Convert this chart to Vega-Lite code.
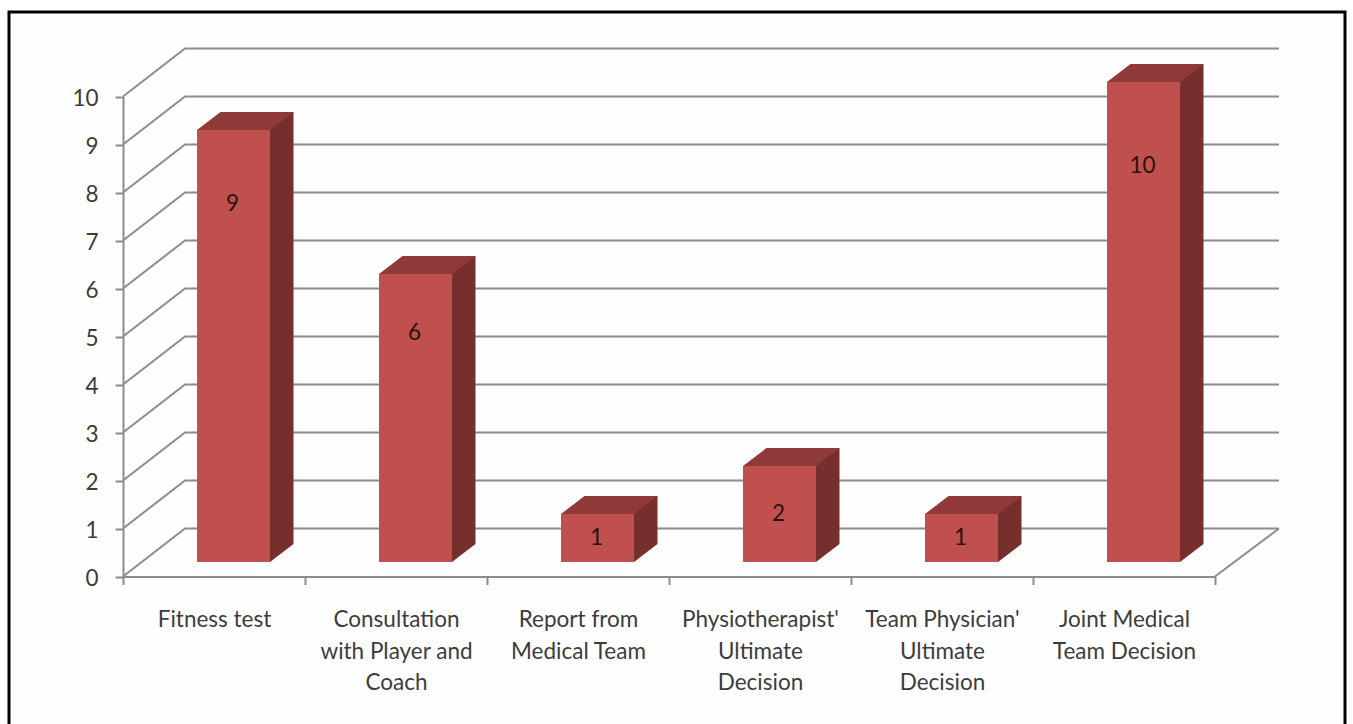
{
  "$schema": "https://vega.github.io/schema/vega-lite/v6.json",
  "width": 1336,
  "height": 714,
  "autosize": "none",
  "padding": {"left": 9, "top": 12, "right": 8, "bottom": 0},
  "background": "white",
  "view": {"stroke": "#000000", "strokeWidth": 3, "fill": "#fefefe"},
  "config": {"font": "Lato"},
  "data": {"values": [
    {"category": "Fitness test", "value": 9},
    {"category": "Consultation with Player and Coach", "value": 6},
    {"category": "Report from Medical Team", "value": 1},
    {"category": "Physiotherapist' Ultimate Decision", "value": 2},
    {"category": "Team Physician' Ultimate Decision", "value": 1},
    {"category": "Joint Medical Team Decision", "value": 10}
  ]},
  "encoding": {
    "x": {
      "field": "category",
      "type": "nominal",
      "sort": null,
      "title": null,
      "scale": {
        "type": "band",
        "domain": [
          "Fitness test",
          "Consultation with Player and Coach",
          "Report from Medical Team",
          "Physiotherapist' Ultimate Decision",
          "Team Physician' Ultimate Decision",
          "Joint Medical Team Decision"
        ],
        "range": [114, 1206],
        "paddingInner": 0,
        "paddingOuter": 0
      },
      "axis": {
        "offset": -149.5,
        "domainColor": "#8c8c8c",
        "domainWidth": 2,
        "tickColor": "#8c8c8c",
        "tickWidth": 2,
        "tickSize": 8,
        "tickBand": "extent",
        "labelAngle": 0,
        "labelAlign": "center",
        "labelBaseline": "top",
        "labelPadding": 24,
        "labelFontSize": 22.5,
        "labelColor": "#3c3c3c",
        "labelLineHeight": 31.5,
        "labelOverlap": false,
        "labelLimit": 0,
        "labelExpr": "datum.label == 'Consultation with Player and Coach' ? ['Consultation', 'with Player and', 'Coach'] : datum.label == 'Report from Medical Team' ? ['Report from', 'Medical Team'] : datum.label == \"Physiotherapist' Ultimate Decision\" ? [\"Physiotherapist'\", 'Ultimate', 'Decision'] : datum.label == \"Team Physician' Ultimate Decision\" ? [\"Team Physician'\", 'Ultimate', 'Decision'] : datum.label == 'Joint Medical Team Decision' ? ['Joint Medical', 'Team Decision'] : datum.label"
      }
    },
    "y": {
      "field": "value",
      "type": "quantitative",
      "title": null,
      "scale": {"domain": [0, 10], "range": [564.5, 84.5], "nice": false, "zero": false},
      "axis": {
        "offset": -114,
        "values": [0, 1, 2, 3, 4, 5, 6, 7, 8, 9, 10],
        "grid": false,
        "domainColor": "#8c8c8c",
        "domainWidth": 2,
        "tickColor": "#8c8c8c",
        "tickWidth": 2,
        "tickSize": 8,
        "labelPadding": 17,
        "labelOffset": 2,
        "labelFontSize": 22.5,
        "labelColor": "#3c3c3c"
      }
    }
  },
  "layer": [
    {
      "description": "Side wall diagonal and back wall line for every tick",
      "data": {"values": [
        {"tick": 0}, {"tick": 1}, {"tick": 2}, {"tick": 3}, {"tick": 4}, {"tick": 5},
        {"tick": 6}, {"tick": 7}, {"tick": 8}, {"tick": 9}, {"tick": 10}
      ]},
      "mark": {
        "type": "point",
        "size": 4,
        "shape": "M0,0L62,-48H1156",
        "filled": false,
        "opacity": 1,
        "stroke": "#8c8c8c",
        "strokeWidth": 2
      },
      "encoding": {
        "x": {"datum": "Fitness test", "type": "nominal", "bandPosition": 0, "scale": {"type": "band"}},
        "y": {"field": "tick", "type": "quantitative"}
      }
    },
    {
      "description": "Right edge of the floor",
      "data": {"values": [{"tick": 0}]},
      "mark": {
        "type": "point",
        "size": 4,
        "shape": "M0,0L64,-48",
        "filled": false,
        "opacity": 1,
        "stroke": "#8c8c8c",
        "strokeWidth": 2
      },
      "encoding": {
        "x": {"datum": "Joint Medical Team Decision", "type": "nominal", "bandPosition": 1, "scale": {"type": "band"}},
        "y": {"field": "tick", "type": "quantitative"}
      }
    },
    {
      "description": "Side face of each column",
      "mark": {"type": "bar", "size": 23.5, "color": "#772f2d", "xOffset": 67.75, "yOffset": -32.5, "y2Offset": -32.5},
      "encoding": {"y2": {"datum": 0}}
    },
    {
      "description": "Lower corner of the side face",
      "mark": {
        "type": "point",
        "size": 4,
        "shape": "M0,0L23.5,-18H0Z",
        "filled": true,
        "opacity": 1,
        "color": "#772f2d",
        "xOffset": 56,
        "yOffset": -14.5
      },
      "encoding": {"y": {"datum": 0, "type": "quantitative"}}
    },
    {
      "description": "Front face of each column",
      "mark": {"type": "bar", "size": 73, "color": "#c0504d", "xOffset": 19.5, "yOffset": -14.5, "y2Offset": -14.5},
      "encoding": {"y2": {"datum": 0}}
    },
    {
      "description": "Top face of each column",
      "mark": {
        "type": "point",
        "size": 4,
        "shape": "M0,0H73L96.5,-18H23.5Z",
        "filled": true,
        "opacity": 1,
        "color": "#8f3a38",
        "xOffset": -17,
        "yOffset": -14.5
      }
    },
    {
      "description": "Value printed on each column",
      "mark": {
        "type": "text",
        "fontSize": 22.5,
        "color": "#2a1212",
        "baseline": "middle",
        "xOffset": 18.5,
        "yOffset": {"expr": "datum.value == 9 ? 59.5 : datum.value == 6 ? 44.5 : datum.value == 2 ? 33.5 : datum.value == 10 ? 69.5 : 9.5"}
      },
      "encoding": {"text": {"field": "value", "type": "quantitative"}}
    }
  ]
}
